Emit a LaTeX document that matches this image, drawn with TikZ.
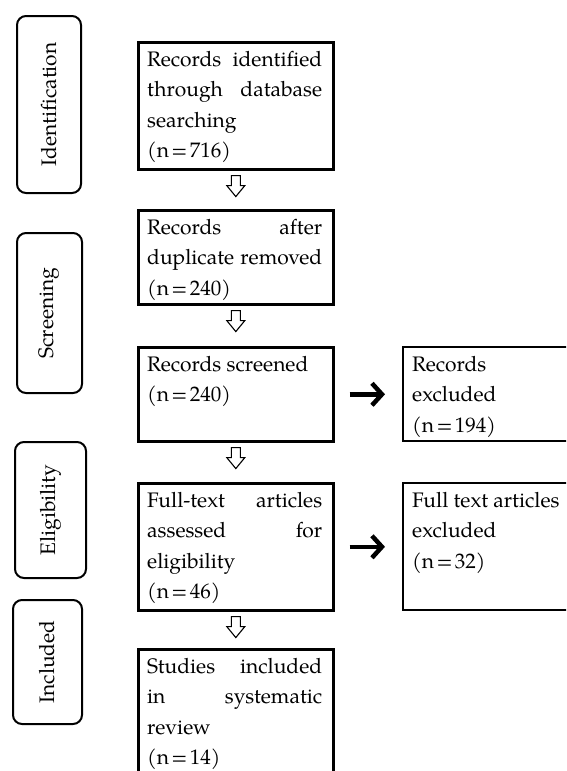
\documentclass[tikz,border=0pt]{standalone}
\usepackage{fontspec}
\setmainfont{TeX Gyre Pagella}
\usetikzlibrary{arrows.meta,calc}
\newcommand\mylines[2]{\parbox[t]{#1}{\fontsize{21}{30.5}\selectfont #2}}
\newcommand\jl[1]{\makebox[\linewidth][s]{#1}}
\newcommand\nn[1]{(n\hspace{2.5pt}=\hspace{2.5pt}#1)}
\tikzset{
  mainbox/.style={draw, line width=2.6pt, anchor=north west, inner sep=0pt},
  sidebox/.style={draw, line width=2pt, rounded corners=9pt, anchor=north west, inner sep=0pt},
  exbox/.style={draw, line width=2pt, anchor=north west, inner sep=0pt},
  txt/.style={anchor=base west, inner sep=0pt},
  sidetxt/.style={rotate=90, inner sep=0pt, font=\fontsize{21}{24}\selectfont},
  harrow/.style={draw, line width=1.1pt, line join=miter},
  barrow/.style={line width=4.5pt, -{Straight Barb[length=10pt,width=22pt,line width=4.5pt]}},
}
\begin{document}
\begin{tikzpicture}[x=1pt,y=-1pt]
\clip (0,0) rectangle (566,771);
\fill[white] (0,0) rectangle (566,771);
% side stage boxes
\node[sidebox, minimum width=64pt, minimum height=177pt] (s1) at (16,15) {};
\node[sidebox, minimum width=65pt, minimum height=160pt] (s2) at (16,232) {};
\node[sidebox, minimum width=71pt, minimum height=136pt] (s3) at (14,441) {};
\node[sidebox, minimum width=69pt, minimum height=124pt] (s4) at (12,599) {};
\node[sidetxt] (t1) at (s1.center) {Identification};
\node[sidetxt] (t2) at (s2.center) {Screening};
\node[sidetxt] (t3) at (s3.center) {Eligibility};
\node[sidetxt] (t4) at (s4.center) {Included};
% main boxes
\node[mainbox, minimum width=195pt, minimum height=127pt] (b1) at (137,41) {};
\node[mainbox, minimum width=195pt, minimum height=94pt] (b2) at (137,209) {};
\node[mainbox, minimum width=195pt, minimum height=94pt] (b3) at (137,346) {};
\node[mainbox, minimum width=195pt, minimum height=127pt] (b4) at (137,482) {};
\node[mainbox, minimum width=195pt, minimum height=150pt] (b5) at (137,648) {};
\node[exbox, minimum width=190pt, minimum height=94pt] (r1) at (402,346) {};
\node[exbox, minimum width=190pt, minimum height=127pt] (r2) at (402,482) {};
% texts
\node[txt] (x1) at ($(b1.north west)+(10,25)$) {\mylines{175pt}{\jl{Records identified}\\\jl{through database}\\searching\\\nn{716}}};
\node[txt] (x2) at ($(b2.north west)+(10,25)$) {\mylines{175pt}{\jl{Records after}\\\jl{duplicate removed}\\\nn{240}}};
\node[txt] (x3) at ($(b3.north west)+(10,25)$) {\mylines{175pt}{Records screened\\\nn{240}}};
\node[txt] (x4) at ($(b4.north west)+(10,25)$) {\mylines{175pt}{\jl{Full-text articles}\\\jl{assessed for}\\eligibility\\\nn{46}}};
\node[txt] (x5) at ($(b5.north west)+(10,25)$) {\mylines{175pt}{\jl{Studies included}\\\jl{in systematic}\\review\\\nn{14}}};
\node[txt] (y1) at ($(r1.north west)+(10,25)$) {\mylines{160pt}{Records\\excluded\\\nn{194}}};
\node[txt] (y2) at ($(r2.north west)+(10,25)$) {\mylines{160pt}{Full text articles\\excluded\\\nn{32}}};
% hollow down arrows
\foreach \b in {b1,b2,b3,b4}{
  \draw[harrow] (\b.south) ++(-4.5,5) -- ++(9,0) -- ++(0,10) -- ++(4.5,0) -- ++(-9,11) -- ++(-9,-11) -- ++(4.5,0) -- cycle;
}
% bold right arrows
\draw[barrow, shorten <=15pt, shorten >=17pt] (b3.east) -- (b3.east -| r1.west);
\draw[barrow, shorten <=15pt, shorten >=17pt] (b4.east) -- (b4.east -| r2.west);
\end{tikzpicture}
\end{document}
